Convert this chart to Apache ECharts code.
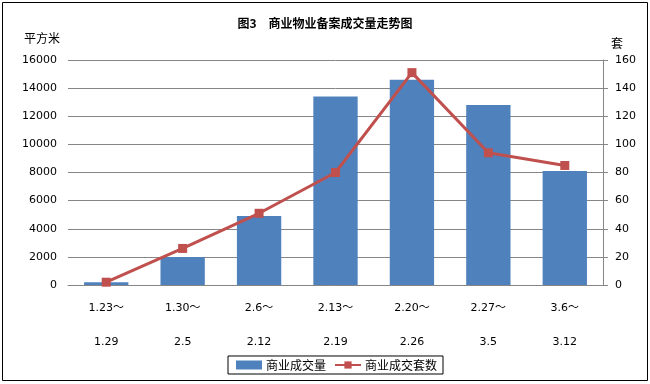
<!DOCTYPE html>
<html><head><meta charset="utf-8">
<script src="https://cdn.jsdelivr.net/npm/echarts@6/dist/echarts.min.js"></script>
<style>html,body{margin:0;padding:0;background:#fff}#c{width:650px;height:384px}</style>
</head><body><div id="c"></div>
<script>
var categories = ['1.23～\n1.29','1.30～\n2.5','2.6～\n2.12','2.13～\n2.19','2.20～\n2.26','2.27～\n3.5','3.6～\n3.12'];
var areaValues = [200, 2000, 4900, 13400, 14600, 12800, 8100];
var unitValues = [2, 26, 51, 80, 151, 94, 85];
var leftTicks = {min: 0, max: 16000, interval: 2000};
var rightTicks = {min: 0, max: 160, interval: 20};

var chart = echarts.init(document.getElementById('c'));
var f = '"DejaVu Sans","Noto Sans CJK SC",sans-serif';
chart.setOption({
  animation: false,
  backgroundColor: '#fff',
  title: {text: '图3　商业物业备案成交量走势图', left: 'center', top: 12,
    textStyle: {fontSize: 12, fontWeight: 'bold', color: '#000', fontFamily: '"Noto Sans CJK SC",sans-serif'}},
  graphic: [
    {type: 'rect', shape: {x: 2.5, y: 2.5, width: 645, height: 378}, style: {fill: 'none', stroke: '#000', lineWidth: 1}, silent: true},
    {type: 'text', left: 24, top: 32, style: {text: '平方米', font: '12px "Noto Sans CJK SC"', fill: '#000'}},
    {type: 'text', left: 611, top: 37, style: {text: '套', font: '12px "Noto Sans CJK SC"', fill: '#000'}}
  ],
  legend: {
    bottom: 10, left: 228, itemGap: 8, itemWidth: 26, itemHeight: 9,
    padding: [3, 6, 3, 8], borderColor: '#000', borderWidth: 1,
    textStyle: {fontSize: 12, color: '#000', fontFamily: '"Noto Sans CJK SC",sans-serif', padding: [0, 0, 0, -1]},
    data: [{name: '商业成交量', icon: 'rect'}, {name: '商业成交套数'}]
  },
  grid: {left: 68, right: 47, top: 60, bottom: 99},
  xAxis: {
    type: 'category', data: categories,
    axisLine: {lineStyle: {color: '#868686'}},
    axisTick: {show: false},
    axisLabel: {color: '#000', fontSize: 11, fontFamily: f, lineHeight: 34, margin: 6, interval: 0}
  },
  yAxis: [
    {type: 'value', min: leftTicks.min, max: leftTicks.max, interval: leftTicks.interval,
      axisLine: {show: false}, axisTick: {show: false},
      axisLabel: {color: '#000', fontSize: 11, fontFamily: f, margin: 11, formatter: function (v) { return String(v); }},
      splitLine: {lineStyle: {color: '#868686'}}},
    {type: 'value', min: rightTicks.min, max: rightTicks.max, interval: rightTicks.interval,
      axisLine: {show: true, lineStyle: {color: '#868686'}},
      axisTick: {show: true, length: 5, lineStyle: {color: '#868686'}},
      axisLabel: {color: '#000', fontSize: 11, fontFamily: f, margin: 12},
      splitLine: {show: false}}
  ],
  series: [
    {name: '商业成交量', type: 'bar', data: areaValues, barCategoryGap: '42%',
      itemStyle: {color: '#4F81BD'}},
    {name: '商业成交套数', type: 'line', yAxisIndex: 1, data: unitValues,
      symbol: 'rect', symbolSize: 9, itemStyle: {color: '#C0504D'},
      lineStyle: {color: '#C0504D', width: 3}}
  ]
});
</script></body></html>
